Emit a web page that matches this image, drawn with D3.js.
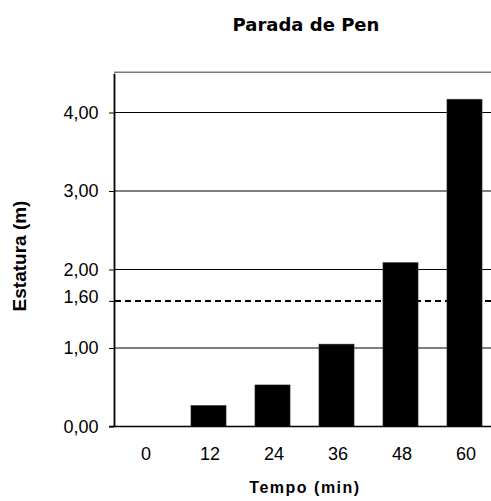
<!DOCTYPE html>
<html>
<head>
<meta charset="utf-8">
<script src="https://cdn.jsdelivr.net/npm/d3@7"></script>
<style>
  html, body { margin: 0; padding: 0; background: #fff; }
  svg { display: block; }
</style>
</head>
<body>
<svg id="chart" width="491" height="501"></svg>
<script>
// Pen's parade: height reached at each time mark
const categories = ["0", "12", "24", "36", "48", "60"];
const heights = [0, 0.27, 0.53, 1.05, 2.09, 4.17];
const yTickValues = [0, 1, 1.6, 2, 3, 4];
const gridValues = [1, 2, 3, 4];
const referenceHeight = 1.6;
const yMax = 4.5;

const svg = d3.select("#chart");

const plotLeft = 114, plotTop = 73.25, plotBottom = 426.5, plotRight = 497;

const x = d3.scaleBand()
  .domain(categories)
  .range([112.5, 496.5])
  .paddingInner(0.45)
  .paddingOuter(0.225);

const y = d3.scaleLinear()
  .domain([0, yMax])
  .range([plotBottom, plotTop]);

const ptBR = d3.formatLocale({ decimal: ",", thousands: ".", grouping: [3], currency: ["R$", ""] });
const fmt = ptBR.format(".2f");

// frame top edge
svg.append("line")
  .attr("x1", plotLeft).attr("x2", plotRight)
  .attr("y1", y(yMax) - 1).attr("y2", y(yMax) - 1)
  .attr("stroke", "#7a7a7a").attr("stroke-width", 1.5);

// horizontal grid lines
svg.append("g")
  .selectAll("line")
  .data(gridValues)
  .join("line")
  .attr("x1", plotLeft).attr("x2", plotRight)
  .attr("y1", d => y(d)).attr("y2", d => y(d))
  .attr("stroke", "#000").attr("stroke-width", 1);

// reference line at 1,60 m
svg.append("line")
  .attr("x1", plotLeft + 1).attr("x2", plotRight)
  .attr("y1", y(referenceHeight)).attr("y2", y(referenceHeight))
  .attr("stroke", "#000").attr("stroke-width", 2)
  .attr("stroke-dasharray", "6,4");

// bars
svg.append("g")
  .selectAll("rect")
  .data(categories.map((c, i) => ({ c, v: heights[i] })))
  .join("rect")
  .attr("x", d => x(d.c))
  .attr("width", x.bandwidth())
  .attr("y", d => y(d.v))
  .attr("height", d => y(0) - y(d.v))
  .attr("fill", "#000")
  .attr("stroke", "#555")
  .attr("stroke-width", 0.5);

// y axis
const yAxis = svg.append("g")
  .attr("transform", `translate(${plotLeft},0)`)
  .call(d3.axisLeft(y).tickValues(yTickValues).tickFormat(fmt).tickSize(5).tickPadding(10.5).tickSizeOuter(0));
yAxis.select(".domain").attr("stroke-width", 1.8);
yAxis.selectAll("text")
  .attr("font-family", "'Liberation Sans', Arial, sans-serif")
  .attr("font-size", 18)
  .attr("fill", "#000");
// the 1,60 label sits a little higher, clear of 2,00
yAxis.selectAll(".tick")
  .filter(d => d === referenceHeight)
  .select("text")
  .attr("y", -4);

// x axis
const xAxis = svg.append("g")
  .attr("transform", `translate(0,${plotBottom})`)
  .call(d3.axisBottom(x).tickSize(0).tickPadding(21));
xAxis.select(".domain").remove();
xAxis.selectAll("text")
  .attr("x", 1.5)
  .attr("font-family", "'Liberation Sans', Arial, sans-serif")
  .attr("font-size", 18)
  .attr("fill", "#000");
svg.append("line")
  .attr("x1", plotLeft - 5).attr("x2", plotRight)
  .attr("y1", plotBottom).attr("y2", plotBottom)
  .attr("stroke", "#000").attr("stroke-width", 1.5);

// titles
svg.append("text")
  .attr("x", 306).attr("y", 31)
  .attr("text-anchor", "middle")
  .attr("font-family", "'DejaVu Sans', Verdana, sans-serif")
  .attr("font-weight", "bold")
  .attr("font-size", 18)
  .text("Parada de Pen");

svg.append("text")
  .attr("x", 305).attr("y", 493)
  .attr("text-anchor", "middle")
  .attr("font-family", "'Liberation Sans', Arial, sans-serif")
  .attr("font-weight", "bold")
  .attr("font-size", 16)
  .attr("letter-spacing", 1.5)
  .text("Tempo (min)");

svg.append("text")
  .attr("transform", "translate(26,256) rotate(-90)")
  .attr("text-anchor", "middle")
  .attr("font-family", "'Liberation Sans', Arial, sans-serif")
  .attr("font-weight", "bold")
  .attr("font-size", 19)
  .text("Estatura (m)");
</script>
</body>
</html>
